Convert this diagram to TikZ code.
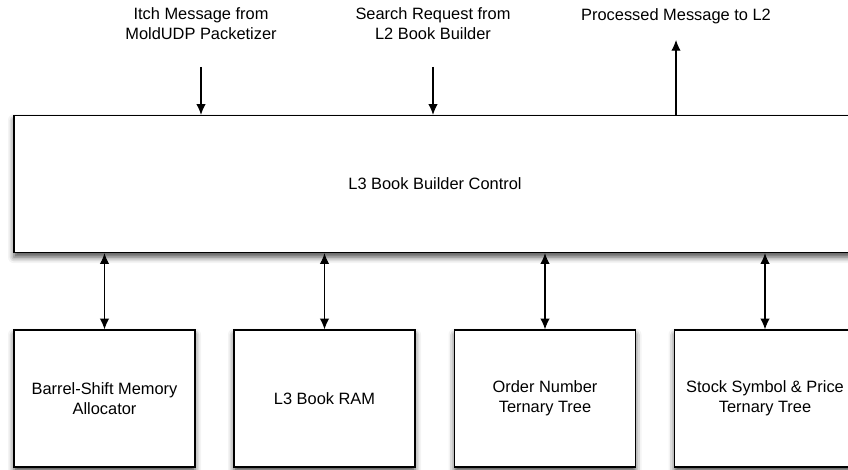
\documentclass[tikz,border=0pt]{standalone}
\usepackage{fontspec}
\setmainfont{Liberation Sans}
\usetikzlibrary{arrows.meta,shadows.blur}

\begin{document}
\begin{tikzpicture}[x=0.75pt,y=-0.75pt,
		font=\fontsize{12.3}{15}\selectfont,
		blk/.style={draw, line width=1pt, fill=white, align=center,
			minimum height=102.75pt, inner sep=0pt,
			blur shadow={shadow xshift=0pt, shadow yshift=-3.5pt, shadow blur radius=4.5pt, shadow opacity=70}},
		unit/.style={blk, minimum width=135.75pt},
		lbl/.style={align=center},
		arr/.style={line width=0.8pt, >={Latex[length=8pt,width=7pt]}}]
		\useasboundingbox (0,0) rectangle (848,470);
		\clip (0,0) rectangle (848,470);
		% main control block
		\node[blk, minimum width=631.5pt] (ctrl) at (435,184) {L3 Book Builder Control};
		% lower blocks
		\node[unit] (alloc) at (104.5,398.5) {Barrel-Shift Memory\\Allocator};
		\node[unit] (ram) at (324.5,398.5) {L3 Book RAM};
		\node[unit] (order) at (545,398.5) {Order Number\\Ternary Tree};
		\node[unit] (stock) at (765,398.5) {Stock Symbol \& Price\\Ternary Tree};
		\foreach \b in {alloc,ram,order,stock}
			\draw[arr,<->] (\b.north) -- (\b.north |- ctrl.south);
		% top inputs and output
		\node[lbl] (itch) at (201,24) {Itch Message from\\MoldUDP Packetizer};
		\node[lbl] (search) at (433,24) {Search Request from\\L2 Book Builder};
		\node[lbl] (proc) at (676,16) {Processed Message to L2};
		\coordinate (itchin) at (201,67);
		\coordinate (searchin) at (433,67);
		\coordinate (procout) at (676,40);
		\draw[arr,->] (itchin) -- (itchin |- ctrl.north);
		\draw[arr,->] (searchin) -- (searchin |- ctrl.north);
		\draw[arr,->] (procout |- ctrl.north) -- (procout);
	\end{tikzpicture}
\end{document}
